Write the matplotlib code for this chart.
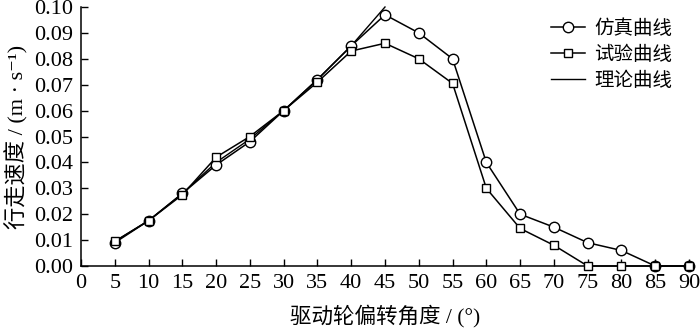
import matplotlib
matplotlib.use("Agg")
import matplotlib.pyplot as plt

angles = [5, 10, 15, 20, 25, 30, 35, 40, 45, 50, 55, 60, 65, 70, 75, 80, 85, 90]
sim = [0.009, 0.0175, 0.028, 0.039, 0.048, 0.060, 0.072, 0.085, 0.097, 0.090, 0.080,
       0.040, 0.020, 0.015, 0.009, 0.006, 0.0, 0.0]
exp = [0.0095, 0.0175, 0.0275, 0.042, 0.050, 0.060, 0.071, 0.083, 0.086, 0.080, 0.0705,
       0.030, 0.0145, 0.008, 0.0, 0.0, 0.0, 0.0]
theory_angles = [5, 10, 15, 20, 25, 30, 35, 40, 45]
theory = [0.0095, 0.0175, 0.028, 0.040, 0.049, 0.060, 0.072, 0.085, 0.100]
xticks = list(range(0, 95, 5))
yticks = [0.00, 0.01, 0.02, 0.03, 0.04, 0.05, 0.06, 0.07, 0.08, 0.09, 0.10]

fams = ['Liberation Serif', 'Noto Sans CJK SC', 'DejaVu Sans']
plt.rcParams['font.family'] = fams

fig = plt.figure(figsize=(7, 3.3), dpi=100)
ax = fig.add_axes([81/700, (330-266)/330, (689-81)/700, (266-7)/330])

ax.plot(angles, sim, '-', color='black', lw=1.1, marker='o', ms=7.5,
        mfc='white', mec='black', mew=1.0, label='仿真曲线', zorder=3)
ax.plot(angles, exp, '-', color='black', lw=1.1, marker='s', ms=6,
        mfc='white', mec='black', mew=1.0, label='试验曲线', zorder=3)
ax.plot(theory_angles, theory, '-', color='black', lw=1.0, label='理论曲线', zorder=2)

ax.set_xlim(0, 90)
ax.set_ylim(0, 0.10)
ax.set_xticks(xticks)
ax.set_xticklabels([str(v) for v in xticks])
ax.set_yticks(yticks)
ax.set_yticklabels([f"{v:.2f}" for v in yticks])
ax.tick_params(direction='in', length=5, width=1, labelsize=16, pad=6, colors='black')
for s in ['top', 'right']:
    ax.spines[s].set_visible(False)
for s in ['left', 'bottom']:
    ax.spines[s].set_linewidth(1.1)
for ln in ax.lines:
    ln.set_clip_on(False)

ax.set_xlabel('驱动轮偏转角度 / (°)', fontsize=15.5, labelpad=8)
ax.set_ylabel('行走速度 / (m · s⁻¹)', fontsize=16, labelpad=4)

leg = ax.legend(loc='upper left', bbox_to_anchor=(0.745, 1.02), frameon=False,
                fontsize=14, handlelength=1.7, handletextpad=0.5, labelspacing=0.4)

fig.savefig('out.png', dpi=100)
